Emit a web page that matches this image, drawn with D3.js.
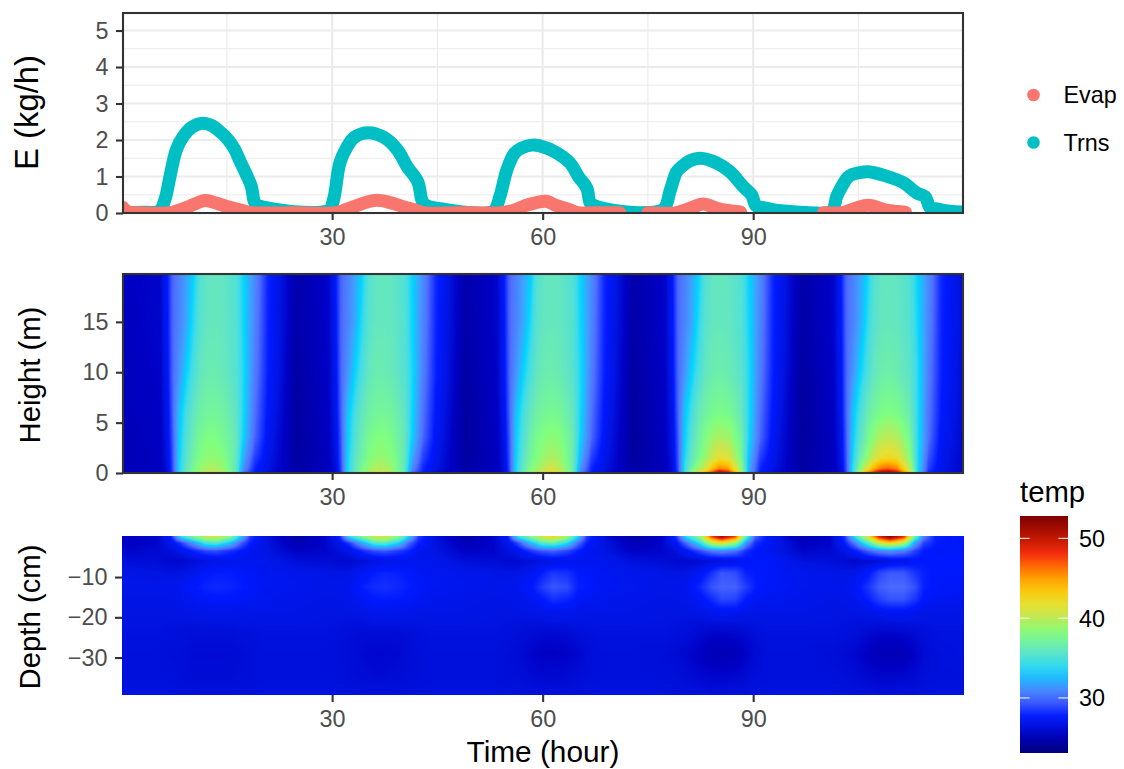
<!DOCTYPE html>
<html><head><meta charset="utf-8">
<style>html,body{margin:0;padding:0;background:#fff}svg{display:block}text{font-family:"Liberation Sans",Arial,sans-serif}</style>
<script src="https://cdn.jsdelivr.net/npm/d3@7"></script></head><body>
<div id="chart"></div>
<script>
// ---- Data ----
const hourTicks=[30,60,90];
const fluxTicks=[0,1,2,3,4,5];
const fluxMinor=[0.5,1.5,2.5,3.5,4.5];
const hourMinor=[15,45,75,105];
const heightTicks=[0,5,10,15];
const depthTicks=[-30,-20,-10];
const tempTicks=[30,40,50];
const tempStops=[23.1,25.6,26.6,27.6,30,31.8,33.2,34.3,36,38.1,40.2,41.8,43.9,46,47.7,50,52.8];
const tempColors=["#00007F","#0000C4","#0014E2","#0018FF","#5070FF","#40A0FF","#00D4FF","#40DCE8","#64E6C0","#7FFF7F","#C4E852","#E8E030","#FFC000","#FF8000","#FF3010","#C01800","#7F0000"];
const seriesNames=["Evap","Trns"];
const seriesColors=["#F8766D","#00BFC4"];

const trnsHours=[0.2,3,5,5.6,6.3,6.9,7.8,8.8,10,11.6,13,14,15,16,17,18,18.5,19,19.5,22,26,
 29,29.7,30.3,31.1,32.1,33.2,35.2,37.4,39.3,40.7,42.2,42.9,43.5,46,50,
 53,53.9,54.9,56,57,58.4,59.6,62,63.9,65.1,66.3,66.8,67.4,70,74,
 77.2,78.2,79.1,80,81,82.5,84.8,86.7,88.6,89.8,90.4,91.4,94,98,
 101.2,101.9,102.6,103.5,104.2,105,106.4,109,111.4,113.3,114.5,115.2,116,118,120];
const trnsValues=[.01,.02,.03,.1,.45,1,1.73,2.1,2.35,2.46,2.38,2.23,2.05,1.78,1.37,.96,.72,.27,.2,.1,.02,
 .04,.1,.45,1.37,1.8,2.08,2.2,2.07,1.73,1.27,.86,.3,.2,.1,.01,
 .05,.45,1.18,1.64,1.78,1.86,1.84,1.65,1.37,1,.68,.27,.2,.08,.01,
 .1,.63,1.13,1.3,1.43,1.5,1.37,1.13,.72,.49,.2,.15,.06,.01,
 .05,.45,.72,.98,1.06,1.1,1.13,1.01,.83,.55,.45,.15,.12,.05,.03];
const evapHours=[0.2,1,2,7,8.5,9.6,10.8,11.9,13,14,15,17,18.5,24,30.5,32,33.5,35,36.4,38,40,41.5,43,48,54,56,57.5,59,60.5,62,64,65,68,71,
 73,75,79.1,81,82.9,84.8,87.1,88.2,
 94,100,102.7,104.6,106.4,109,110.5,111.7];
const evapValues=[.15,.02,.01,.01,.1,.18,.28,.34,.3,.24,.18,.08,.01,.01,.01,.1,.2,.3,.35,.3,.18,.1,.01,.01,.01,.08,.2,.28,.32,.2,.08,.01,.01,.01,
 null,.01,.01,.13,.25,.13,.05,.03,
 null,.01,.01,.13,.21,.08,.04,.02];

// Air temperature: rows = heights, columns = airHours
const airHeights=[0,0.4,1.5,3.5,6,10,15,19.75];
const airHours=[0.2,
 1,5.5,6.5,7.2,8.2,9.2,10.2,11.2,12.2,13.2,14.5,16.3,17.4,19,20.8,
 25,29.5,30.5,31.2,32.2,33.2,34.2,35.2,36.2,37.2,38.5,40.3,41.4,43,44.8,
 49,53.5,54.5,55.2,56.2,57.2,58.2,59.2,60.2,61.2,62.5,64.3,65.4,67,68.8,
 73,77.5,78.5,79.2,80.2,81.2,82.2,83.2,84.2,85.2,86.5,88.3,89.4,91,92.8,
 97,101.5,102.5,103.2,104.2,105.2,106.2,107.2,108.2,109.2,110.5,112.3,113.4,115,116.8,
 120];
const airTemp=[
 [25.4, 25.2,25.4,26.2,28.3,33.5,36,38,39.5,40.5,40.8,39.5,36.5,30,27.6,26.2,
  24.8,25.4,26.2,28.3,33.5,36,38,39.5,40.6,41,39.7,36.5,30,27.6,26.2,
  24.8,25.4,26.2,28.3,33.5,36.2,38.3,40,41.5,43,41.5,37,30.5,27.6,26.2,
  24.6,25.4,26.2,28.3,34,38,41.5,44.5,48,52,49.5,40,32,27.6,26.3,
  24.6,25.4,26.3,28.6,34,40,45.5,48.5,52,53,50,43,34,28,26.6,
  25.8],
 [25.4, 25.2,25.4,26.3,28.6,33.5,35.8,37.5,38.8,39.5,39.6,38.8,36,31,27.9,26.6,
  24.6,25.4,26.3,28.6,33.5,35.8,37.5,38.8,39.7,39.8,39,36,31,27.9,26.6,
  24.6,25.4,26.3,28.6,33.5,36,37.8,39,40,41,39.8,36.5,31.3,27.9,26.6,
  24.5,25.4,26.3,28.6,34,37,39,41,44,46,45,38.5,32.2,27.9,26.6,
  24.5,25.4,26.4,28.8,34,38,41.5,44.5,46.5,47,46,40,34,28.6,26.8,
  25.8],
 [25.4, 25.2,25.4,26.5,28.8,33.2,35.5,37,38,38.6,38.7,38.2,36.2,32,28.6,26.9,
  24.4,25.4,26.5,28.8,33.2,35.5,37,38,38.7,38.8,38.3,36.2,32,28.6,26.9,
  24.4,25.4,26.5,28.8,33.2,35.5,37.2,38.2,39,39.5,39,36.5,32.3,28.6,26.9,
  24.3,25.4,26.5,28.8,33.5,36,37.5,39,40.5,41.8,41.3,37.5,32.7,28.6,26.9,
  24.3,25.4,26.6,29,33.5,36.5,38.5,40.5,42,42.5,42,38.5,34,29.2,27,
  25.8],
 [25.4, 25.2,25.5,26.7,29,33,35,36.5,37.5,38,38,37.5,36.2,33.2,29.7,27.2,
  24.3,25.5,26.7,29,33,35,36.5,37.5,38,38.2,37.7,36.2,33.2,29.7,27.2,
  24.3,25.5,26.7,29,33,35,36.7,37.7,38.2,38.5,38.2,36.5,33.2,29.7,27.2,
  24.2,25.5,26.7,29,33,35.2,36.8,38,39,39.5,39.2,37,33.5,29.7,27.2,
  24.2,25.5,26.8,29.2,33,35.5,37.2,38.7,39.7,40,39.7,37.5,34,30,27.3,
  25.9],
 [25.5, 25.3,25.6,26.9,29.3,32.7,34.5,36,36.8,37.2,37.2,37,35.8,33.5,30,27.5,
  24.3,25.6,26.9,29.3,32.7,34.5,36,36.8,37.2,37.3,37.1,35.8,33.5,30,27.5,
  24.3,25.6,26.9,29.3,32.7,34.5,36,36.9,37.3,37.5,37.3,36,33.5,30,27.5,
  24.2,25.6,26.9,29.3,32.7,34.5,36.2,37,37.5,37.8,37.6,36.2,33.7,30,27.5,
  24.2,25.6,27,29.4,32.7,34.6,36.3,37.2,37.8,38,37.8,36.5,34,30.2,27.6,
  26],
 [25.6, 25.4,25.7,27.2,29.5,31.3,33.2,34.7,36,36.5,36.5,36.2,35.3,33.7,30.5,27.8,
  24.5,25.7,27.2,29.5,31.3,33.2,34.7,36,36.5,36.5,36.2,35.3,33.7,30.5,27.8,
  24.5,25.7,27.2,29.5,31.3,33.2,34.7,36,36.5,36.6,36.3,35.4,33.7,30.5,27.8,
  24.4,25.7,27.2,29.5,31.3,33.2,34.7,36,36.5,36.7,36.4,35.5,33.8,30.5,27.8,
  24.4,25.7,27.2,29.5,31.3,33.2,34.7,36,36.6,36.8,36.5,35.6,34,30.5,27.8,
  26.1],
 [25.7, 25.5,25.8,27.4,29.6,30.7,31.9,33.8,35.4,36,36.1,36,35.2,33.4,30.8,27.9,
  24.7,25.8,27.4,29.6,30.7,31.9,33.8,35.4,36,36.1,36,35.2,33.4,30.8,27.9,
  24.7,25.8,27.4,29.6,30.7,31.9,33.6,35.4,36,36.1,36,35.2,33.4,30.8,27.9,
  24.6,25.8,27.4,29.6,30.7,31.9,33.8,35.4,36,36.1,36,35.2,33.5,30.8,27.9,
  24.6,25.8,27.4,29.6,30.7,31.9,33.8,35.4,36,36.1,36,35.3,33.6,30.8,27.9,
  26.2],
 [25.8, 25.6,25.8,27.6,29.6,30.6,31.8,33.2,35.2,35.9,36.1,35.9,35.1,33.3,31,28,
  24.8,25.8,27.6,29.6,30.6,31.8,33.2,35.2,35.9,36.1,35.9,35.1,33.3,31,28,
  24.8,25.8,27.6,29.6,30.6,31.8,32.9,35.2,35.9,36.1,35.9,35.1,33.3,31,28,
  24.7,25.8,27.6,29.6,30.6,31.8,33.2,35.2,35.9,36.1,35.9,35.1,33.3,31,28,
  24.7,25.8,27.6,29.6,30.6,31.8,33.2,35.2,35.9,36.1,35.9,35.1,33.4,31,28,
  26.2]
];

// Soil temperature: rows = depths, columns = soilHours
const soilDepths=[0,-1.5,-3.5,-6,-9,-12.5,-15.5,-19,-24,-29,-35,-39.3];
const soilHours=[0.2,
 1,5,7,8.5,10.5,12,13.5,15.5,17,18.3,20,
 25,29,31,32.5,34.5,36,37.5,39.5,41,42.3,44,
 49,53,55,56.5,58.5,60,61.5,63.5,65,66.3,68,
 73,77,79,80.5,82.5,84,85.5,87.5,89,90.3,92,
 97,101,103,104.5,106.5,108,109.5,111.5,113,114.3,116,
 120];
const soilTemp=[
 [25.6, 25.6,25.9,27.6,34,38,40.5,41,38,33,28.6,26.8,
  24.5,25.8,27.6,34,38,40.5,41,38,33,28.6,26.8,
  24.5,25.8,27.6,34.2,38.3,41,42.5,39,33.5,28.6,26.8,
  24.4,25.6,28.2,34,38.5,47,51.5,47,36,29.6,27.4,
  24.8,25.8,28.2,34,42,49,52.5,48,37,30.5,27.8,
  27.3],
 [25.6, 25.5,25.8,26.8,28.6,32,35,35.5,33,29.6,27.8,26.8,
  25,25.8,26.8,28.6,32.5,35.5,36,33.5,29.6,27.8,26.8,
  25.2,25.8,26.8,29,33,36,36.5,34,30,27.8,26.8,
  25.2,25.8,27.2,30,34.5,40,42,39,31.3,28.2,27.4,
  25.5,25.8,27.6,30.5,36,41,43,40,32,28.8,27.7,
  27.4],
 [26, 25.8,26,26.3,26.8,28,28.8,29,28.2,27.6,27,26.8,
  25.6,25.8,26.3,26.8,28.2,29,29.3,28.5,27.8,27,26.8,
  25.6,25.8,26.4,27,28.5,29.3,29.6,28.8,27.8,27.1,26.8,
  25.6,25.8,26.4,27.3,29,30.3,30.7,30,28.2,27.4,27.2,
  25.8,26,26.6,27.6,29.6,30.7,31.2,30.4,28.8,27.6,27.4,
  27.5],
 [26.4, 26.3,26.2,25.9,25.9,26.2,26.5,26.7,26.9,27,27,27,
  26.3,26.2,26,26,26.3,26.5,26.7,26.9,27,27,27,
  26.3,26.2,26,26,26.3,26.5,26.7,26.9,27,27.1,27.1,
  26.4,26.2,26,25.9,26.1,26.3,26.5,26.9,27.3,27.5,27.5,
  26.5,26.3,26.1,25.9,26.1,26.3,26.6,26.9,27.3,27.6,27.6,
  27.6],
 [26.7, 26.7,26.6,26.5,26.6,27,27.5,27.7,27.7,27.5,27.3,27.1,
  26.9,26.7,26.6,26.7,27.2,27.7,27.9,27.8,27.5,27.3,27.1,
  26.9,26.7,26.6,26.7,27.1,27.8,28.4,28.2,27.6,27.4,27.2,
  26.9,26.7,26.6,26.7,27.2,28.2,29.3,29,27.8,27.6,27.4,
  27,26.8,26.7,26.8,27.6,28.8,29.4,29.3,28.4,27.8,27.5,
  27.5],
 [26.8, 26.8,26.8,26.9,27.1,27.6,27.9,28,27.9,27.7,27.5,27.2,
  27,26.8,26.9,27.1,27.8,28.1,28.2,28,27.7,27.5,27.2,
  27,26.8,26.9,27.1,27.6,28.6,29.3,29,27.8,27.6,27.3,
  27,26.8,26.9,27.1,28,29.2,29.6,29.6,28.6,27.7,27.4,
  27,26.9,27,27.2,28.4,29.5,29.8,29.8,29.2,27.8,27.5,
  27.3],
 [26.7, 26.7,26.7,26.7,26.9,27.2,27.4,27.5,27.5,27.3,27.2,27,
  26.8,26.7,26.7,26.9,27.3,27.6,27.7,27.6,27.4,27.2,27,
  26.8,26.7,26.7,26.9,27.2,27.6,28.2,27.9,27.4,27.2,27,
  26.8,26.7,26.7,26.9,27.3,28,28.9,28.7,27.6,27.3,27.1,
  26.9,26.7,26.8,27,27.8,28.7,29.2,29.2,28.4,27.5,27.2,
  27],
 [26.6, 26.6,26.6,26.6,26.6,26.7,26.8,26.8,26.8,26.8,26.7,26.7,
  26.7,26.6,26.6,26.6,26.7,26.9,26.9,26.9,26.8,26.7,26.7,
  26.7,26.6,26.6,26.6,26.7,26.8,26.9,26.9,26.8,26.7,26.7,
  26.7,26.6,26.6,26.6,26.7,26.9,27,27,26.8,26.7,26.7,
  26.7,26.6,26.6,26.6,26.7,26.9,27.1,27.1,26.9,26.7,26.7,
  26.7],
 [26.5, 26.5,26.5,26.4,26.4,26.3,26.3,26.3,26.3,26.4,26.4,26.5,
  26.5,26.5,26.4,26.3,26.2,26.2,26.2,26.2,26.3,26.4,26.5,
  26.5,26.5,26.4,26.3,26.1,26,26,26.1,26.3,26.4,26.5,
  26.5,26.5,26.4,26.3,26,25.8,25.8,25.9,26.1,26.3,26.5,
  26.5,26.5,26.4,26.3,26,25.8,25.8,25.9,26.1,26.3,26.5,
  26.5],
 [26.4, 26.4,26.4,26.3,26.3,26.1,26.1,26.1,26.1,26.2,26.3,26.4,
  26.4,26.4,26.3,26.2,26,25.9,25.9,26,26.2,26.3,26.4,
  26.4,26.4,26.3,26.1,25.8,25.6,25.6,25.7,25.9,26.2,26.4,
  26.4,26.3,26.1,25.9,25.5,25.2,25.1,25.2,25.7,26.1,26.4,
  26.4,26.3,26.1,25.9,25.5,25.2,25.1,25.2,25.7,26.1,26.4,
  26.5],
 [26.4, 26.4,26.4,26.4,26.3,26.2,26.2,26.2,26.2,26.3,26.3,26.4,
  26.4,26.4,26.4,26.3,26.2,26.1,26.1,26.2,26.3,26.3,26.4,
  26.4,26.4,26.3,26.3,26.1,26,26,26.1,26.2,26.3,26.4,
  26.4,26.4,26.3,26.2,26,25.9,25.9,26,26.1,26.3,26.4,
  26.4,26.4,26.3,26.2,26,25.9,25.9,26,26.1,26.3,26.4,
  26.4],
 [26.5, 26.5,26.5,26.5,26.5,26.5,26.5,26.5,26.5,26.5,26.5,26.5,
  26.5,26.5,26.5,26.5,26.5,26.5,26.5,26.5,26.5,26.5,26.5,
  26.5,26.5,26.5,26.5,26.4,26.4,26.4,26.4,26.5,26.5,26.5,
  26.5,26.5,26.5,26.4,26.4,26.3,26.3,26.4,26.4,26.5,26.5,
  26.5,26.5,26.5,26.4,26.4,26.3,26.3,26.4,26.4,26.5,26.5,
  26.5]
];

// ---- Layout and scales ----
const W=1124,H=769;
const L=123,R=963;
const P1={t:13,b:213},P2={t:274,b:473},P3={t:536,b:695};
const x=d3.scaleLinear().domain([0.2,119.9]).range([L,R]);
const yFlux=d3.scaleLinear().domain([0,5.48]).range([P1.b,P1.t]);
const yHeight=d3.scaleLinear().domain([0,19.75]).range([P2.b,P2.t]);
const yDepth=d3.scaleLinear().domain([-39.3,0.2]).range([P3.b,P3.t]);
const TMIN=tempStops[0],TMAX=tempStops[tempStops.length-1];
const color=d3.scaleLinear().domain(tempStops).range(tempColors).clamp(true);
const yLegend=d3.scaleLinear().domain([TMIN,TMAX]).range([753,516]);

const svg=d3.select("#chart").append("svg").attr("width",W).attr("height",H).attr("viewBox",[0,0,W,H]);
const defs=svg.append("defs");
defs.append("clipPath").attr("id","panelClip").append("rect")
  .attr("x",L).attr("y",P1.t).attr("width",R-L).attr("height",P1.b-P1.t);

// Panel 1 grid
const grid=svg.append("g");
function gl(vals,fn,w){vals.forEach(v=>{const a=fn(v);grid.append("line").attr("x1",a[0]).attr("y1",a[1]).attr("x2",a[2]).attr("y2",a[3]).attr("stroke","#EBEBEB").attr("stroke-width",w);});}
gl(fluxMinor,v=>[L,yFlux(v),R,yFlux(v)],1.1);
gl(hourMinor,v=>[x(v),P1.t,x(v),P1.b],1.1);
gl(fluxTicks,v=>[L,yFlux(v),R,yFlux(v)],2.1);
gl(hourTicks,v=>[x(v),P1.t,x(v),P1.b],2.1);

// Panel 1 series
const line=d3.line().defined(d=>d[1]!==null).curve(d3.curveCatmullRom.alpha(0.5)).x(d=>x(d[0])).y(d=>yFlux(d[1]));
const marks=svg.append("g").attr("clip-path","url(#panelClip)");
marks.append("path").attr("d",line(d3.zip(trnsHours,trnsValues)))
  .attr("fill","none").attr("stroke",seriesColors[1]).attr("stroke-width",13).attr("stroke-linecap","round").attr("stroke-linejoin","round");
marks.append("path").attr("d",line(d3.zip(evapHours,evapValues)))
  .attr("fill","none").attr("stroke",seriesColors[0]).attr("stroke-width",13).attr("stroke-linecap","round").attr("stroke-linejoin","round");

// Rasters: bilinear between the read cells, as an interpolated raster does
function raster(hours,rowsV,matrix,yScale,x0,x1,y0,y1){
  const w=x1-x0,h=y1-y0;
  const cv=document.createElement("canvas");cv.width=w;cv.height=h;
  const ctx=cv.getContext("2d");const img=ctx.createImageData(w,h);
  const asc=rowsV[0]<rowsV[rowsV.length-1];
  const rows=asc?rowsV:rowsV.slice().reverse();
  const mat=asc?matrix:matrix.slice().reverse();
  const loc=(arr,v)=>{let i=d3.bisectRight(arr,v)-1;i=Math.max(0,Math.min(arr.length-2,i));
    let f=(v-arr[i])/(arr[i+1]-arr[i]);f=Math.max(0,Math.min(1,f));return [i,f];};
  for(let py=0;py<h;py++){
    const [r,fr]=loc(rows,yScale.invert(y0+py+0.5));
    for(let px=0;px<w;px++){
      const [c,fc]=loc(hours,x.invert(x0+px+0.5));
      const v=(mat[r][c]*(1-fc)+mat[r][c+1]*fc)*(1-fr)+(mat[r+1][c]*(1-fc)+mat[r+1][c+1]*fc)*fr;
      const col=d3.rgb(color(v));const k=(py*w+px)*4;
      img.data[k]=col.r;img.data[k+1]=col.g;img.data[k+2]=col.b;img.data[k+3]=255;
    }
  }
  ctx.putImageData(img,0,0);
  svg.append("image").attr("x",x0).attr("y",y0).attr("width",w).attr("height",h).attr("href",cv.toDataURL());
}
raster(airHours,airHeights,airTemp,yHeight,L,R,P2.t,P2.b);
raster(soilHours,soilDepths,soilTemp,yDepth,122,964,P3.t,P3.b);

// Borders
[P1,P2].forEach(p=>svg.append("rect").attr("x",L).attr("y",p.t).attr("width",R-L).attr("height",p.b-p.t)
  .attr("fill","none").attr("stroke","#333333").attr("stroke-width",2.1));

// Axes
const tickSize="23.4px";
function styleAxis(g){
  g.select(".domain").remove();
  g.selectAll(".tick line").attr("stroke","#333333").attr("stroke-width",2.1);
  g.selectAll(".tick text").attr("fill","#4D4D4D").style("font-size",tickSize).style("font-family",'"Liberation Sans",Arial,sans-serif');
}
function xAxis(yPos){
  svg.append("g").attr("transform",`translate(0,${yPos})`)
    .call(d3.axisBottom(x).tickValues(hourTicks).tickSize(7).tickPadding(8).tickFormat(d3.format("d"))).call(styleAxis);
}
function yAxis(scale,ticks,xPos){
  svg.append("g").attr("transform",`translate(${xPos},0)`)
    .call(d3.axisLeft(scale).tickValues(ticks).tickSize(7).tickPadding(7.5).tickFormat(d=>String(d).replace("-","\u2212"))).call(styleAxis);
}
xAxis(P1.b);xAxis(P2.b);xAxis(P3.b);
yAxis(yFlux,fluxTicks,L);yAxis(yHeight,heightTicks,L);yAxis(yDepth,depthTicks,L-1);

// Titles
const titleSize="29.3px";
function yTitle(txt,cy,bx,size){svg.append("text").attr("transform",`translate(${bx},${cy}) rotate(-90)`).attr("text-anchor","middle").attr("fill","#000").style("font-size",size).text(txt);}
yTitle("E (kg/h)",112.5,38,"32.8px");yTitle("Height (m)",375,40,titleSize);yTitle("Depth (cm)",617,40,titleSize);
svg.append("text").attr("x",543).attr("y",762).attr("text-anchor","middle").attr("fill","#000").style("font-size","29.8px").text("Time (hour)");

// Legend
const legYs=[95,142.5];
seriesNames.forEach((n,i)=>{
  svg.append("circle").attr("cx",1033.5).attr("cy",legYs[i]).attr("r",6.3).attr("fill",seriesColors[i]);
  svg.append("text").attr("x",1063.5).attr("y",legYs[i]+8.2).attr("fill","#000").style("font-size",tickSize).text(n);
});

// Colour bar: 20 bins, like the original guide
const grad=defs.append("linearGradient").attr("id","tempBar").attr("x1",0).attr("x2",0).attr("y1",1).attr("y2",0);
d3.range(20).forEach(i=>{const f=i/19;grad.append("stop").attr("offset",f).attr("stop-color",color(TMIN+(TMAX-TMIN)*f));});
svg.append("rect").attr("x",1020).attr("y",516).attr("width",48).attr("height",237).attr("fill","url(#tempBar)");
tempTicks.forEach(t=>{
  const y=yLegend(t);
  svg.append("line").attr("x1",1020).attr("x2",1029.6).attr("y1",y).attr("y2",y).attr("stroke","#fff").attr("stroke-width",1);
  svg.append("line").attr("x1",1058.4).attr("x2",1068).attr("y1",y).attr("y2",y).attr("stroke","#fff").attr("stroke-width",1);
  svg.append("text").attr("x",1079).attr("y",y+8.5).attr("fill","#000").style("font-size",tickSize).text(t);
});
svg.append("text").attr("x",1020).attr("y",502).attr("fill","#000").style("font-size",titleSize).text("temp");
</script>
</body></html>
